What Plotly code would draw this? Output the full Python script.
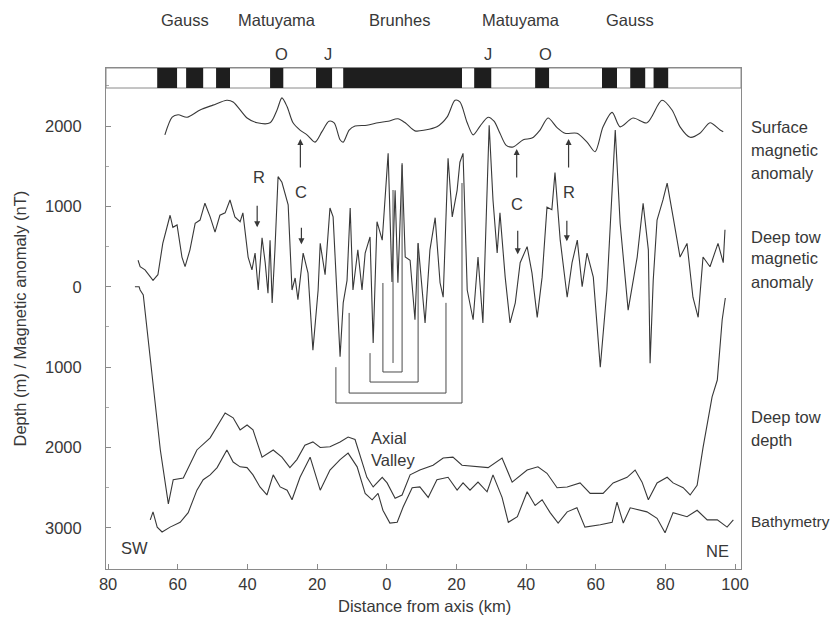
import plotly.graph_objects as go

# ---------------- data (distance km: SW negative, NE positive) ----------------
surf_km = [-63.7, -61.6, -59.9, -57.3, -53.6, -49.9, -45.9, -44.1, -40.1, -37.2, -33.5, -31.5, -30.1,
           -28.6, -26.9, -24.9, -22.9, -20.6, -18.6, -16.6, -15.1, -13.4, -12.5, -10.8, -9.1, -5.7,
           -2.5, 0.4, 3.2, 5.3, 8.1, 11.0, 14.4, 17.3, 19.6, 21.0, 23.1, 24.8, 26.8, 29.1, 30.8, 32.5,
           34.3, 36.3, 39.2, 41.7, 44.0, 46.3, 48.9, 51.2, 54.6, 57.5, 59.8, 62.1, 64.7, 67.0, 70.7,
           74.7, 79.0, 81.9, 84.2, 87.1, 89.9, 92.8, 95.7, 96.6]
surf_nt = [1890, 2110, 2140, 2110, 2200, 2260, 2320, 2300, 2100, 2040, 2040, 2200, 2350,
           2240, 2040, 1950, 1890, 1800, 1930, 2060, 2040, 1830, 1800, 1950, 2000, 2010,
           2040, 2060, 2090, 2040, 1940, 1950, 1990, 2110, 2320, 2300, 2040, 1890, 2000, 2110, 2060, 1910,
           1760, 1740, 1830, 1850, 1950, 2100, 1980, 1910, 1910, 1800, 1680, 1990, 2170, 1990, 2100,
           2040, 2320, 2200, 1990, 1860, 1910, 2040, 1950, 1930]

tow_km = [-71.4, -70.8, -69.4, -67.1, -65.7, -64.3, -62.2, -61.4, -60.2, -58.8, -57.9, -56.5, -55.0,
          -53.6, -52.2, -50.7, -49.3, -47.9, -46.4, -45.0, -43.6, -42.1, -41.3, -39.8, -38.7, -37.8,
          -36.9, -35.8, -34.9, -34.1, -33.5, -32.9, -32.1, -31.2, -30.1, -29.2, -28.3, -27.2, -26.3,
          -25.5, -24.0, -22.6, -21.2, -19.7, -19.1, -17.7, -16.3, -15.4, -14.3, -13.4, -12.5, -11.4,
          -10.5, -9.7, -8.3, -7.1, -6.2, -4.8, -3.9, -2.8, -1.3, 0.4, 1.5, 2.4, 3.2, 4.4, 5.3, 6.7,
          8.1, 9.0, 11.0, 12.4, 13.9, 15.3, 16.2, 17.6, 18.8, 20.2, 21.0, 21.9, 23.1, 24.8, 26.2,
          27.6, 29.4, 30.5, 31.7, 32.5, 34.0, 35.4, 36.9, 38.3, 40.3, 41.7, 43.2, 44.6, 46.0, 47.4,
          48.3, 49.8, 51.8, 53.2, 54.7, 56.1, 57.5, 59.3, 61.3, 63.2, 64.7, 65.6, 67.0, 69.3, 71.9,
          73.6, 75.1, 75.6, 76.5, 77.6, 79.3, 80.5, 82.2, 84.2, 86.2, 87.9, 89.4, 90.8, 92.8, 95.1,
          96.6, 97.1]
tow_nt = [330, 250, 210, 80, 150, 540, 890, 740, 770, 370, 250, 460, 790,
          830, 1040, 870, 680, 890, 920, 1080, 870, 810, 920, 370, 210, 420,
          -40, 610, 300, -80, 580, -200, 460, 1370, 1300, 1170, 1020, -40, 110,
          -160, 420, 170, -790, -40, 540, 150, 980, 870, -130, -870, -200, 80,
          980, -40, 460, -40, 420, 620, -700, 810, 580, 1660, 60, 1200, 50, 1520, 370, 330,
          -410, 540, -450, 460, 860, 50, -130, 1600, 870, 1200, 1550, 1660, -40, -410, 370,
          -450, 2010, 1080, 420, 920, 120, -450, -200, 300, 500, 170, -380, 120, 990, 960,
          1420, 580, -130, 300, 580, 0, 420, 120, -1000, -40, 1200, 1950, 790, -290, 370,
          1040, 460, -950, 80, 830, 1080, 1290, 870, 370, 540, -130, -380, 370, 250, 540,
          300, 710]

depth_km = [-72.3, -71.1, -70.8, -69.9, -65.0, -62.7, -61.3, -58.4, -54.5, -50.7, -46.4, -44.1,
            -42.1, -40.1, -38.4, -35.8, -32.6, -30.1, -27.8, -25.8, -23.5, -21.2, -19.1, -16.3,
            -13.4, -11.1, -9.1, -5.7, -3.9, -1.3, 0.1, 2.4, 4.4, 6.7, 9.5, 13.3, 16.2, 19.0, 21.6,
            25.9, 29.1, 33.1, 36.0, 40.3, 43.4, 46.0, 48.9, 51.8, 55.5, 58.4, 62.1, 65.0, 69.0,
            71.3, 73.3, 75.1, 77.6, 80.5, 82.2, 85.1, 87.1, 89.1, 90.8, 93.4, 94.9, 96.3, 97.2]
depth_m = [0, 0, 40, 100, 2030, 2700, 2400, 2380, 2030, 1880, 1570, 1630,
           1780, 1720, 1780, 2120, 2030, 2120, 2250, 2150, 1970, 1930, 2000, 1990,
           1930, 1870, 1900, 2370, 2490, 2370, 2440, 2630, 2590, 2340, 2280, 2220, 2130, 2120, 2220,
           2240, 2250, 2130, 2430, 2280, 2240, 2320, 2500, 2490, 2440, 2570, 2570, 2440, 2370,
           2280, 2430, 2650, 2440, 2370, 2440, 2500, 2590, 2470, 2000, 1370, 1160, 410, 140]

bathy_km = [-67.9, -67.1, -65.9, -64.5, -62.2, -59.3, -57.0, -54.5, -52.7, -50.7, -48.7, -45.9,
            -44.1, -42.1, -40.1, -38.4, -36.4, -34.4, -32.6, -30.6, -28.6, -27.2, -24.9, -22.0,
            -19.1, -16.3, -13.4, -11.1, -8.5, -6.2, -4.2, -2.5, -1.1, 0.9, 3.0, 4.7, 7.3, 9.5, 11.9,
            14.4, 17.6, 20.2, 21.9, 23.9, 26.2, 28.8, 30.5, 33.1, 34.9, 37.5, 40.3, 42.6, 44.6,
            46.9, 49.2, 51.8, 54.6, 56.9, 61.3, 64.7, 66.1, 67.9, 69.9, 74.7, 77.6, 79.9, 82.2,
            86.2, 89.1, 92.0, 94.9, 97.7, 99.5]
bathy_m = [2900, 2800, 2990, 3050, 2990, 2930, 2810, 2530, 2400, 2340, 2250, 2030,
           2180, 2240, 2250, 2340, 2490, 2590, 2340, 2490, 2530, 2650, 2370, 2120,
           2530, 2280, 2150, 2070, 2240, 2570, 2650, 2570, 2780, 2940, 2930, 2740, 2500, 2490, 2620,
           2400, 2370, 2530, 2440, 2530, 2430, 2550, 2340, 2620, 2930, 2860, 2550, 2720, 2650,
           2810, 2940, 2800, 2750, 2990, 2960, 2930, 2680, 2940, 2750, 2800, 2880, 3060, 2810,
           2860, 2780, 2900, 2900, 2990, 2900]

# normal polarity blocks (km)
normal_start = [-65.9, -57.6, -49.0, -33.5, -20.3, -12.5, 25.1, 42.6, 61.8, 69.9, 76.6]
normal_end = [-60.2, -52.7, -45.0, -29.7, -15.7, 21.6, 30.0, 46.6, 66.1, 74.2, 80.8]

# chron / subchron labels
chron_names = ["Gauss", "Matuyama", "Brunhes", "Matuyama", "Gauss"]
chron_km = [-57.9, -31.5, 3.8, 38.6, 69.9]
sub_names = ["O", "J", "J", "O"]
sub_km = [-30.1, -16.9, 29.1, 45.5]

# symmetric-anomaly brackets: left km, right km, bottom depth, left top, right top
br_left = [-1.1, -4.8, -10.8, -14.6]
br_right = [4.4, 9.0, 17.0, 21.6]
br_bottom = [1060, 1185, 1322, 1446]
br_ltop = [47, -825, -325, -1000]
br_rtop = [1540, 545, -200, 1291]
axis_line_km = 1.8
axis_line_top = 1204
axis_line_bottom = 948

# R / C arrows (head position, km & axis value) and labels
arrow_km = [-37.2, -24.8, -24.5, 37.3, 37.6, 52.2, 51.7]
arrow_val = [741, 1838, 529, 1713, 404, 1838, 566]
arrow_dir = ["down", "up", "down", "up", "down", "up", "down"]
arrow_len = [23, 30, 18, 30, 25, 30, 22]
rc_text = ["R", "C", "C", "R"]
rc_km = [-36.8, -24.5, 37.3, 52.2]
rc_val = [1364, 1177, 1027, 1177]

x_ticks = [-80, -60, -40, -20, 0, 20, 40, 60, 80, 100]
y_ticks = [2000, 1000, 0, -1000, -2000, -3000]

# ---------------- figure ----------------
INK = "#383838"
FONT = "Liberation Sans, Arial, Helvetica, sans-serif"
FS = 16.5
YTOP, YBOT = 2722, -3511
BOX_BOT = 2473

fig = go.Figure()
line = dict(color=INK, width=1.1)
fig.add_trace(go.Scatter(x=surf_km, y=surf_nt, mode="lines",
                         line=dict(color=INK, width=1.1, shape="spline", smoothing=0.8)))
fig.add_trace(go.Scatter(x=tow_km, y=tow_nt, mode="lines", line=line))
fig.add_trace(go.Scatter(x=depth_km, y=[-d for d in depth_m], mode="lines", line=line))
fig.add_trace(go.Scatter(x=bathy_km, y=[-d for d in bathy_m], mode="lines", line=line))

brl = dict(color="#4a4a4a", width=1)
for lx, rx, b, lt, rt in zip(br_left, br_right, br_bottom, br_ltop, br_rtop):
    fig.add_trace(go.Scatter(x=[lx, lx, rx, rx], y=[lt, -b, -b, rt], mode="lines", line=brl))
fig.add_trace(go.Scatter(x=[axis_line_km, axis_line_km], y=[axis_line_top, -axis_line_bottom],
                         mode="lines", line=brl))

shapes = []
shapes.append(dict(type="rect", xref="paper", yref="y", x0=0, x1=1, y0=BOX_BOT, y1=YTOP,
                   line=dict(color="#8a8a8a", width=1), fillcolor="rgba(0,0,0,0)"))
for s, e in zip(normal_start, normal_end):
    shapes.append(dict(type="rect", xref="x", yref="y", x0=s, x1=e, y0=BOX_BOT, y1=YTOP,
                       line=dict(width=0), fillcolor="#1e1e1e", layer="above"))


def txt(x, y, t, xref="x", yref="y", xanchor="center", size=FS, **kw):
    return dict(x=x, y=y, xref=xref, yref=yref, text=t, showarrow=False,
                xanchor=xanchor, yanchor="middle", font=dict(size=size, color=INK), **kw)


ann = []
for name, k in zip(chron_names, chron_km):
    ann.append(txt(k, 1.096, name, yref="paper"))
for name, k in zip(sub_names, sub_km):
    ann.append(txt(k, 1.028, name, yref="paper"))
for k, v, d, L in zip(arrow_km, arrow_val, arrow_dir, arrow_len):
    ann.append(dict(x=k, y=v, xref="x", yref="y", text="", showarrow=True, ax=0,
                    ay=(-L if d == "down" else L), arrowhead=2, arrowsize=1, arrowwidth=1.2,
                    arrowcolor=INK, standoff=0))
for t, k, v in zip(rc_text, rc_km, rc_val):
    ann.append(txt(k, v, t))

side_lines = [("Surface", 1988), ("magnetic", 1702), ("anomaly", 1416),
              ("Deep tow", 620), ("magnetic", 358), ("anomaly", 60),
              ("Deep tow", -1620), ("depth", -1906), ("Bathymetry", -2926)]
for t, v in side_lines:
    ann.append(txt(1.0126, v, t, xref="paper", xanchor="left",
                   size=(15.5 if t == "Bathymetry" else FS)))

ann.append(txt(-5.1, -1881, "Axial", xanchor="left"))
ann.append(txt(-5.1, -2155, "Valley", xanchor="left"))
ann.append(txt(-72.5, -3250, "SW"))
ann.append(txt(94.9, -3286, "NE"))
ann.append(txt(0.502, -0.074, "Distance from axis (km)", xref="paper", yref="paper"))
ann.append(txt(-0.137, 0.5, "Depth (m) / Magnetic anomaly (nT)", xref="paper", yref="paper",
               textangle=-90))

fig.update_layout(
    width=832, height=618,
    margin=dict(l=106, r=91, t=68, b=49),
    paper_bgcolor="white", plot_bgcolor="white",
    showlegend=False,
    font=dict(family=FONT, size=FS, color=INK),
    shapes=shapes, annotations=ann,
    xaxis=dict(range=[-80.6, 101.7], tickmode="array", tickvals=x_ticks,
               ticktext=[str(abs(t)) for t in x_ticks], showgrid=False, zeroline=False,
               showline=True, linecolor="#8a8a8a", linewidth=1, mirror=True,
               ticks="inside", ticklen=5, tickcolor="#8a8a8a", ticklabelstandoff=0),
    yaxis=dict(range=[YBOT, YTOP], tickmode="array", tickvals=y_ticks,
               ticktext=[str(abs(t)) for t in y_ticks], showgrid=False, zeroline=False,
               showline=True, linecolor="#8a8a8a", linewidth=1, mirror=True,
               ticks="inside", ticklen=5, tickcolor="#8a8a8a", ticklabelstandoff=20,
               minor=dict(tick0=0, dtick=500, ticks="inside", ticklen=3, tickcolor="#aaaaaa")),
)

fig.write_html("out.html", config={"displayModeBar": False},
               post_script="document.body.style.margin='0';")
